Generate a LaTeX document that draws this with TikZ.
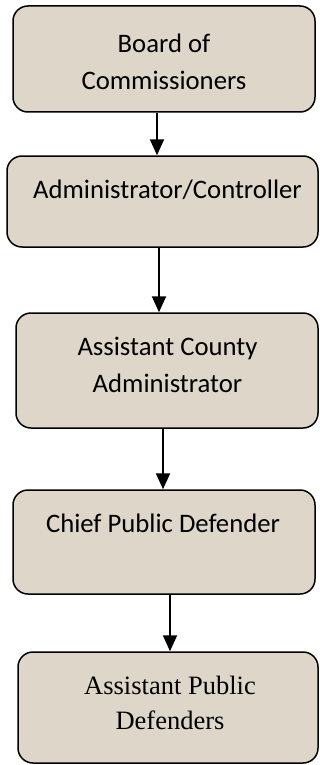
\documentclass[tikz,border=0pt]{standalone}
\usepackage{fontspec}
\setmainfont{Carlito}
\newfontfamily\timesfont{Liberation Serif}
\usetikzlibrary{arrows.meta}
\definecolor{boxfill}{RGB}{221,214,201}
\tikzset{
  x=1pt, y=-1pt,
  orgbox/.style={draw=black, line width=1.5pt, fill=boxfill, rounded corners=15pt, inner sep=0pt},
  boxtext/.style={align=center, inner sep=0pt, font=\fontsize{26.7}{37}\selectfont},
  arr/.style={line width=2pt, -{Triangle[length=16pt,width=14pt]}}
}
\begin{document}
\begin{tikzpicture}
\useasboundingbox (0,0) rectangle (320,765);
\node[orgbox, minimum width=302pt, minimum height=106pt] (b1) at (164,59) {};
\node[orgbox, minimum width=311pt, minimum height=91pt] (b2) at (162.5,201.5) {};
\node[orgbox, minimum width=302pt, minimum height=115pt] (b3) at (167,370.5) {};
\node[orgbox, minimum width=302pt, minimum height=104pt] (b4) at (164,542) {};
\node[orgbox, minimum width=300pt, minimum height=111pt] (b5) at (168,707.5) {};
\node[boxtext] (t1) at (164,61.5) {Board of\\Commissioners};
\node[boxtext] (t2) at (167.5,190) {Administrator/Controller};
\node[boxtext] (t3) at (167.5,365) {Assistant County\\Administrator};
\node[boxtext] (t4) at (163,523) {Chief Public Defender};
\node[boxtext, font=\timesfont\fontsize{26.5}{35}\selectfont] (t5) at (170,702.5) {Assistant Public\\Defenders};
\draw[arr] (b1.south -| 157,0) -- (b2.north -| 157,0);
\draw[arr] (b2.south -| 159,0) -- (b3.north -| 159,0);
\draw[arr] (b3.south -| 163,0) -- (b4.north -| 163,0);
\draw[arr] (b4.south -| 170,0) -- (b5.north -| 170,0);
\end{tikzpicture}
\end{document}
